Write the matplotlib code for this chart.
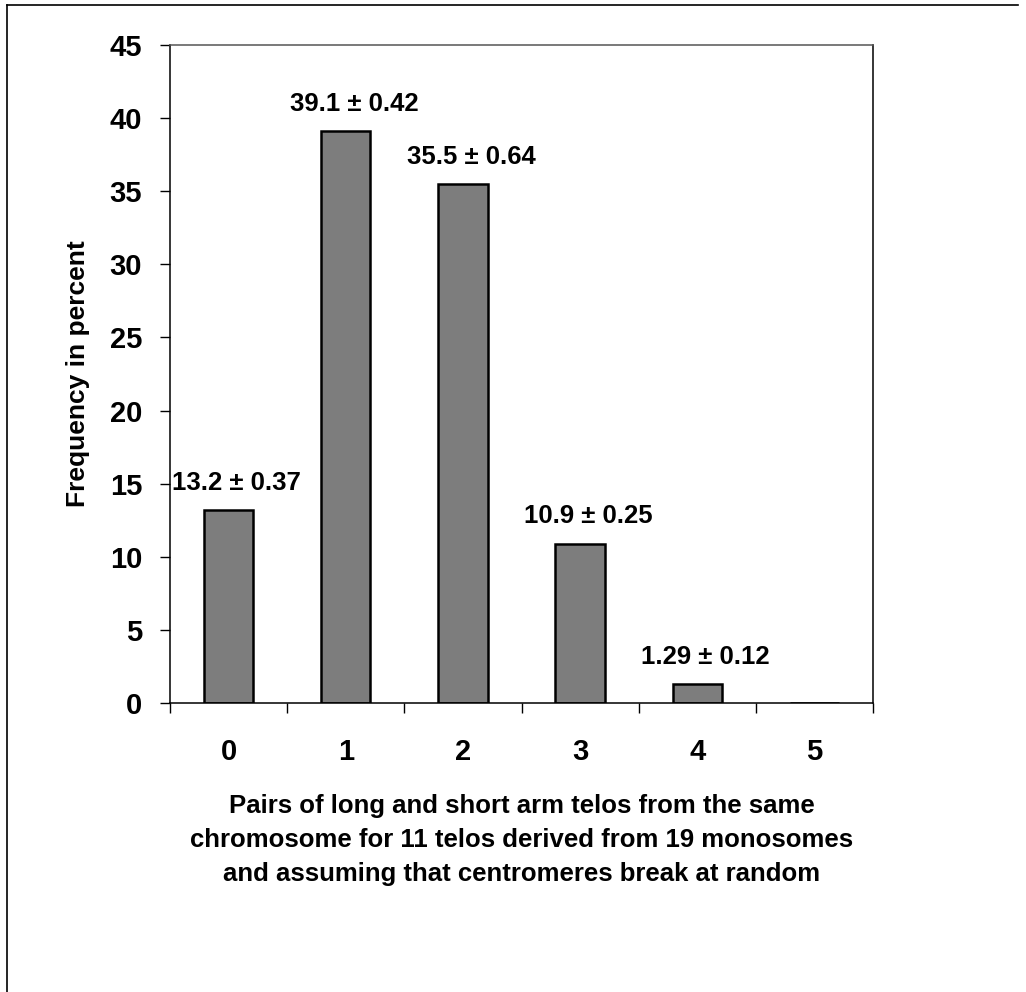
import matplotlib
matplotlib.use("Agg")
import matplotlib.pyplot as plt
from matplotlib.lines import Line2D

plt.rcParams['font.family'] = ['Liberation Sans', 'DejaVu Sans']
plt.rcParams['font.weight'] = 'bold'

# data
pairs = [0, 1, 2, 3, 4, 5]
freq = [13.2, 39.1, 35.5, 10.9, 1.29, 0]
bar_labels = ['13.2 ± 0.37', '39.1 ± 0.42', '35.5 ± 0.64', '10.9 ± 0.25', '1.29 ± 0.12', '']
yticks = list(range(0, 50, 5))

fig = plt.figure(figsize=(10.26, 9.92), dpi=100)
ax = fig.add_axes([0.1657, 0.2913, 0.6852, 0.6633])

ax.bar(pairs, freq, width=0.42, color='#7d7d7d', edgecolor='black', linewidth=1.8, zorder=2)

for x, v, lab in zip(pairs, freq, bar_labels):
    if lab:
        ax.annotate(lab, (x, v), xytext=(6, 11), textcoords='offset points',
                    ha='center', va='bottom', fontsize=18.5, fontweight='bold')

ax.set_xlim(-0.5, 5.5)
ax.set_ylim(0, 45)
ax.set_yticks(yticks)
ax.set_xticks(pairs)
ax.set_xticks([p - 0.5 for p in pairs] + [5.5], minor=True)
ax.tick_params(axis='x', which='major', length=0, pad=25, labelsize=21)
ax.tick_params(axis='x', which='minor', length=7, width=1, direction='out')
ax.tick_params(axis='y', length=7, width=1, pad=13, labelsize=21)

for s in ax.spines.values():
    s.set_linewidth(1.1)
ax.spines['top'].set_color('#555555')

ax.set_ylabel('Frequency in percent', fontsize=19, fontweight='bold', labelpad=14)
ax.set_xlabel('Pairs of long and short arm telos from the same\n'
              'chromosome for 11 telos derived from 19 monosomes\n'
              'and assuming that centromeres break at random',
              fontsize=18.5, fontweight='bold', linespacing=1.55, labelpad=20)

# frame lines at the top and left edge of the figure
fig.add_artist(Line2D([0.007, 0.007], [0.0, 0.995], color='black', lw=1.2))
fig.add_artist(Line2D([0.007, 0.992], [0.995, 0.995], color='black', lw=1.2))

plt.savefig('out.png', dpi=100)
